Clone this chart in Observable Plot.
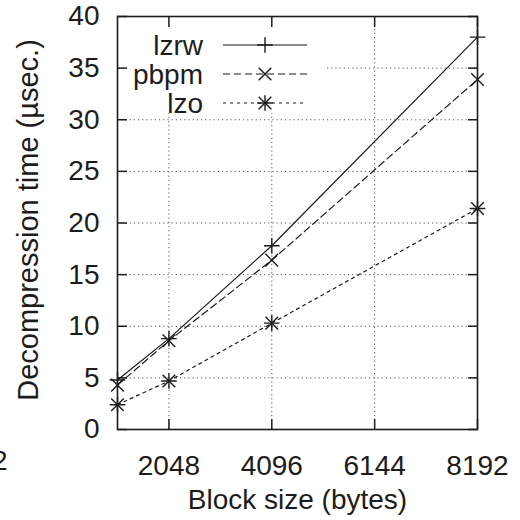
<!DOCTYPE html>
<html>
<head>
<meta charset="utf-8">
<script src="https://cdn.jsdelivr.net/npm/d3@7"></script>
<script src="https://cdn.jsdelivr.net/npm/@observablehq/plot@0.6"></script>
<style>
  html, body { margin: 0; padding: 0; background: #fff; }
</style>
</head>
<body>
<div id="chart"></div>
<script>
// ---- data ----
const blockSizes = [1024, 2048, 4096, 8192];
const seriesNames = ["lzrw", "pbpm", "lzo"];
const lzrwTimes = [4.8, 8.8, 17.8, 38.0];
const pbpmTimes = [4.3, 8.6, 16.4, 33.9];
const lzoTimes  = [2.4, 4.7, 10.3, 21.4];
const xTickValues = [2048, 4096, 6144, 8192];
const yTickValues = [0, 5, 10, 15, 20, 25, 30, 35, 40];
const xTitle = "Block size (bytes)";
const yTitle = "Decompression time (µsec.)";
const strayLabel = ["2"];

// ---- styles ----
const ink = "#1c1c1c";
const fontFamily = "'Liberation Sans', Arial, Helvetica, sans-serif";
const seriesStyle = {
  lzrw: {dash: null, symbols: ["plus"]},
  pbpm: {dash: "7,4", symbols: ["times"]},
  lzo:  {dash: "3,4", symbols: ["plus", "times"]}
};
const symbolR = {plus: 5.1, times: 5.8};
const d3Symbol = {plus: d3.symbolPlus, times: d3.symbolTimes};

const valuesBySeries = {lzrw: lzrwTimes, pbpm: pbpmTimes, lzo: lzoTimes};
const table = seriesNames.flatMap(s =>
  blockSizes.map((b, i) => ({series: s, size: b, time: valuesBySeries[s][i]}))
);

function legendMark(index, scales, values, dimensions) {
  const left = dimensions.marginLeft, top = dimensions.marginTop;
  const g = d3.create("svg:g");
  g.append("rect")
    .attr("x", left + 1).attr("y", top + 1)
    .attr("width", 207).attr("height", 96)
    .attr("fill", "white");
  seriesNames.forEach((s, k) => {
    const y = top + 29 + k * 29;
    g.append("text")
      .attr("x", left + 86).attr("y", y)
      .attr("dy", "0.35em")
      .attr("text-anchor", "end")
      .attr("fill", ink)
      .text(s);
    g.append("line")
      .attr("x1", left + 106).attr("x2", left + 190)
      .attr("y1", y).attr("y2", y)
      .attr("stroke", ink).attr("stroke-width", 1.2)
      .attr("stroke-dasharray", seriesStyle[s].dash);
    seriesStyle[s].symbols.forEach(sym => {
      g.append("path")
        .attr("transform", `translate(${left + 148},${y})`)
        .attr("d", d3.symbol(d3Symbol[sym], Math.PI * symbolR[sym] ** 2)())
        .attr("fill", "none").attr("stroke", ink).attr("stroke-width", 1.4);
    });
  });
  return g.node();
}

const gridStyle = {stroke: "#444", strokeOpacity: 0.9, strokeWidth: 1, strokeDasharray: "1.2,3"};

const marks = [
  Plot.gridY(yTickValues.filter(v => v > 0 && v < 40), gridStyle),
  Plot.gridX(xTickValues.filter(v => v < 8192), gridStyle),
  legendMark,
  ...seriesNames.map(s => Plot.line(table.filter(d => d.series === s), {
    x: "size", y: "time", stroke: ink, strokeWidth: 1.2, strokeDasharray: seriesStyle[s].dash
  })),
  ...seriesNames.flatMap(s => seriesStyle[s].symbols.map(sym => Plot.dot(table.filter(d => d.series === s), {
    x: "size", y: "time", symbol: sym, r: symbolR[sym], stroke: ink, strokeWidth: 1.4
  }))),
  Plot.axisY(yTickValues, {anchor: "left", tickSize: -10, tickPadding: 28, label: null, stroke: ink, strokeWidth: 1.5, fill: ink}),
  Plot.axisY(yTickValues, {anchor: "right", tickSize: -10, tickFormat: () => "", label: null, stroke: ink, strokeWidth: 1.5}),
  Plot.axisX(xTickValues, {anchor: "bottom", tickSize: -10, tickPadding: 36, tickFormat: d3.format("d"), label: null, stroke: ink, strokeWidth: 1.5, fill: ink}),
  Plot.axisX(xTickValues, {anchor: "top", tickSize: -10, tickFormat: () => "", label: null, stroke: ink, strokeWidth: 1.5}),
  Plot.frame({stroke: ink, strokeWidth: 1.6}),
  Plot.text([yTitle], {text: d => d, frameAnchor: "left", rotate: -90, dx: -89, dy: -3, fontSize: 29, textAnchor: "middle", lineAnchor: "middle", fill: ink}),
  Plot.text([xTitle], {text: d => d, frameAnchor: "bottom", dy: 71, textAnchor: "middle", lineAnchor: "middle", fill: ink}),
  Plot.text(strayLabel, {text: d => d, frameAnchor: "bottom-left", dx: -110, dy: 32, textAnchor: "end", lineAnchor: "middle", fill: ink})
];

const chart = Plot.plot({
  width: 520,
  height: 520,
  marginLeft: 117,
  marginRight: 43,
  marginTop: 16,
  marginBottom: 91,
  style: {fontFamily, fontSize: "28px", background: "white", color: ink},
  x: {type: "linear", domain: [1024, 8192]},
  y: {type: "linear", domain: [0, 40]},
  marks
});
document.getElementById("chart").appendChild(chart);
</script>
</body>
</html>
